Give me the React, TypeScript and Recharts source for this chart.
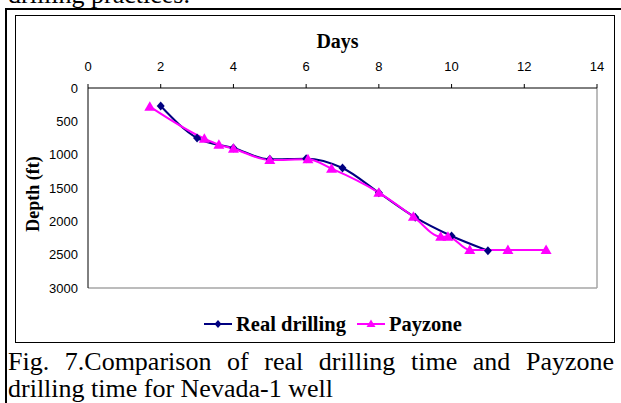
import { LineChart, Line, XAxis, YAxis, ReferenceLine } from 'recharts';

const dayTicks = [0, 2, 4, 6, 8, 10, 12, 14];
const depthTicks = [0, 500, 1000, 1500, 2000, 2500, 3000];

// Real drilling (days, depth ft)
const realDays = [2, 3, 4, 5, 6, 7, 8, 9, 10, 11];
const realDepth = [270, 750, 900, 1070, 1060, 1200, 1570, 1940, 2220, 2440];

// Payzone simulation
const payDays = [1.7, 3.2, 3.6, 4, 5, 6.05, 6.7, 8, 8.95, 9.7, 9.9, 10.5, 11.55, 12.6];
const payDepth = [280, 760, 850, 910, 1080, 1070, 1210, 1570, 1930, 2230, 2230, 2430, 2430, 2430];

const NAVY = '#000080';
const PINK = '#ff00ff';

const realData = realDays.map((day, i) => ({ day, depth: realDepth[i] }));
const payData = payDays.map((day, i) => ({ day, depth: payDepth[i] }));

const serif = '"Liberation Serif", "Times New Roman", serif';
const sans = '"Liberation Sans", Arial, sans-serif';

function Diamond(props: any) {
  const { cx, cy, index } = props;
  if (cx == null || cy == null) return <g key={`rd-${index}`} />;
  return (
    <polygon
      key={`rd-${index}`}
      points={`${cx},${cy - 4.5} ${cx + 4},${cy} ${cx},${cy + 4.5} ${cx - 4},${cy}`}
      fill={NAVY}
    />
  );
}

function Triangle(props: any) {
  const { cx, cy, index } = props;
  if (cx == null || cy == null) return <g key={`pz-${index}`} />;
  return (
    <polygon
      key={`pz-${index}`}
      points={`${cx},${cy - 5.5} ${cx + 5.5},${cy + 4} ${cx - 5.5},${cy + 4}`}
      fill={PINK}
    />
  );
}

function LegendBox() {
  const item = (color: string, marker: 'd' | 't', label: string, gap: number) => (
    <span style={{ display: 'inline-flex', alignItems: 'center', marginRight: gap }}>
      <svg width={28} height={12} style={{ marginRight: 4 }}>
        <line x1={0} y1={6} x2={28} y2={6} stroke={color} strokeWidth={2} />
        {marker === 'd' ? (
          <polygon points="14,2 17.5,6 14,10 10.5,6" fill={color} />
        ) : (
          <polygon points="14,1.5 18.5,9 9.5,9" fill={color} />
        )}
      </svg>
      <span>{label}</span>
    </span>
  );
  return (
    <div
      style={{
        position: 'absolute',
        left: 204,
        top: 312,
        whiteSpace: 'nowrap',
        fontFamily: serif,
        fontWeight: 'bold',
        fontSize: 20.5,
        color: '#000',
        lineHeight: '22px',
      }}
    >
      {item(NAVY, 'd', 'Real drilling', 11)}
      {item(PINK, 't', 'Payzone', 0)}
    </div>
  );
}

export default function App() {
  return (
    <div
      style={{
        position: 'absolute',
        left: 0,
        top: 0,
        width: 621,
        height: 403,
        background: '#fff',
        overflow: 'hidden',
        fontFamily: serif,
        color: '#000',
      }}
    >
      <div style={{ position: 'absolute', left: 8, top: -19, fontSize: 26, lineHeight: '27px', whiteSpace: 'nowrap' }}>
        drilling practices.
      </div>
      <div style={{ position: 'absolute', left: 5, top: 8, width: 616, height: 2, background: '#000' }} />
      <div style={{ position: 'absolute', left: 5, top: 8, width: 2, height: 395, background: '#000' }} />
      <div
        style={{
          position: 'absolute',
          left: 15,
          top: 15,
          width: 598,
          height: 326,
          border: '1px solid #000',
        }}
      />
      <div style={{ position: 'absolute', left: 15, top: 15 }}>
        <LineChart width={599} height={327} margin={{ top: 43, right: 17, bottom: 54, left: 23 }}>
          <XAxis
            type="number"
            dataKey="day"
            orientation="top"
            domain={[0, 14]}
            ticks={dayTicks}
            height={30}
            allowDuplicatedCategory={false}
            stroke="#000"
            tickSize={4}
            tickMargin={13}
            tick={{ fill: '#000', fontSize: 13, fontFamily: sans }}
            label={{
              value: 'Days',
              position: 'top',
              offset: 10,
              dx: -5,
              style: { fontFamily: serif, fontWeight: 'bold', fontSize: 20, fill: '#000' },
            }}
          />
          <YAxis
            type="number"
            dataKey="depth"
            reversed
            domain={[0, 3000]}
            ticks={depthTicks}
            width={50}
            stroke="#000"
            tickLine={false}
            tickSize={0}
            tickMargin={10}
            tick={{ fill: '#000', fontSize: 13, fontFamily: sans }}
            label={{
              content: (p: any) => {
                const vb = p.viewBox || {};
                const cx = vb.x - 5;
                const cy = vb.y + vb.height / 2 + 6;
                return (
                  <text
                    x={cx}
                    y={cy}
                    transform={`rotate(-90 ${cx} ${cy})`}
                    textAnchor="middle"
                    dominantBaseline="central"
                    style={{ fontFamily: serif, fontWeight: 'bold', fontSize: 18, fill: '#000' }}
                  >
                    Depth (ft)
                  </text>
                );
              },
            }}
          />
          <ReferenceLine x={14} stroke="#a6a6a6" strokeWidth={1.5} />
          <ReferenceLine y={3000} stroke="#a6a6a6" strokeWidth={1.5} />
          <Line
            data={realData}
            dataKey="depth"
            name="Real drilling"
            type="monotone"
            stroke={NAVY}
            strokeWidth={2}
            dot={Diamond}
            isAnimationActive={false}
          />
          <Line
            data={payData}
            dataKey="depth"
            name="Payzone"
            type="monotone"
            stroke={PINK}
            strokeWidth={2}
            dot={Triangle}
            isAnimationActive={false}
          />
        </LineChart>
      </div>
      <LegendBox />
      <div
        style={{
          position: 'absolute',
          left: 8,
          top: 348,
          width: 606,
          fontSize: 26,
          lineHeight: '27px',
          textAlign: 'justify',
          textAlignLast: 'justify',
          whiteSpace: 'nowrap',
        }}
      >
        Fig. 7.Comparison of real drilling time and Payzone
      </div>
      <div style={{ position: 'absolute', left: 8, top: 375, fontSize: 26, lineHeight: '27px', whiteSpace: 'nowrap' }}>
        drilling time for Nevada-1 well
      </div>
    </div>
  );
}
